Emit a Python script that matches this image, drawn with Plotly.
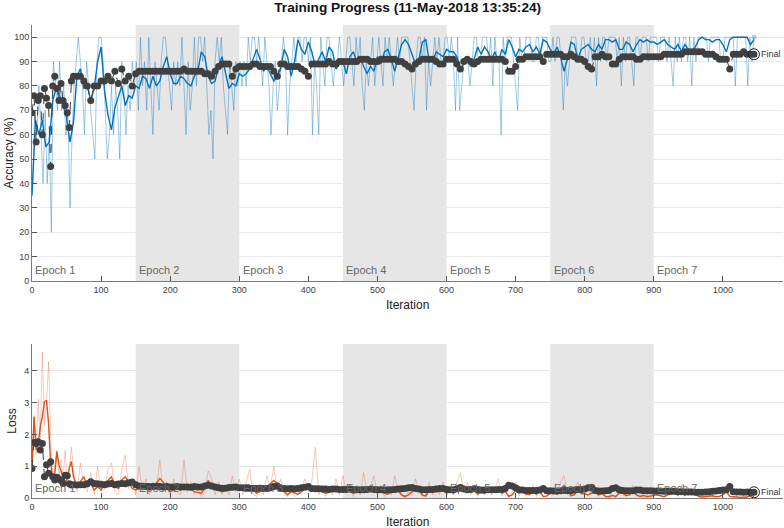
import plotly.graph_objects as go
from plotly.subplots import make_subplots

# iteration grids
acc_raw_iter = list(range(1, 1046, 3))
acc_smooth_iter = list(range(0, 1046, 5))
val_iter = list(range(0, 60, 3)) + list(range(60, 1046, 5))

# training accuracy (per mini-batch, %)
acc_raw = [
    40, 70, 60, 80, 60, 40, 70, 40, 60, 20,
    90, 80, 70, 90, 70, 80, 60, 70, 30, 60,
    80, 90, 100, 90, 80, 60, 90, 80, 70, 60,
    50, 90, 100, 100, 90, 70, 50, 60, 80, 60,
    80, 70, 50, 90, 80, 60, 80, 70, 90, 80,
    90, 70, 100, 80, 90, 70, 100, 80, 60, 90,
    80, 70, 90, 100, 100, 90, 80, 70, 90, 80,
    90, 80, 100, 80, 60, 90, 70, 80, 100, 80,
    100, 100, 90, 100, 80, 60, 70, 50, 90, 100,
    90, 100, 80, 70, 60, 90, 80, 70, 90, 80,
    90, 80, 90, 80, 100, 90, 100, 100, 90, 100,
    90, 80, 100, 90, 80, 60, 80, 90, 70, 80,
    90, 100, 90, 60, 80, 90, 100, 90, 100, 100,
    90, 100, 100, 90, 100, 60, 90, 80, 60, 100,
    90, 80, 100, 100, 90, 80, 90, 90, 100, 90,
    80, 90, 100, 100, 90, 80, 100, 90, 100, 80,
    70, 90, 80, 90, 100, 80, 90, 100, 90, 80,
    100, 90, 100, 90, 80, 90, 100, 90, 100, 100,
    100, 100, 90, 80, 70, 90, 100, 100, 90, 100,
    70, 90, 80, 90, 100, 90, 100, 90, 90, 100,
    100, 90, 100, 90, 70, 100, 70, 80, 90, 90,
    90, 80, 90, 100, 100, 90, 90, 100, 100, 100,
    90, 100, 80, 100, 90, 90, 60, 100, 90, 100,
    100, 100, 90, 80, 70, 100, 90, 90, 100, 100,
    100, 90, 90, 100, 100, 90, 100, 100, 100, 90,
    90, 100, 90, 100, 100, 90, 70, 90, 80, 90,
    100, 100, 100, 90, 90, 100, 100, 90, 90, 100,
    90, 100, 80, 100, 90, 100, 100, 90, 100, 100,
    100, 100, 90, 100, 80, 100, 90, 100, 100, 90,
    80, 100, 100, 90, 100, 100, 100, 90, 100, 100,
    100, 100, 90, 100, 100, 100, 90, 100, 90, 80,
    100, 90, 100, 90, 100, 100, 90, 100, 80, 100,
    90, 100, 100, 100, 100, 100, 90, 100, 100, 100,
    100, 100, 90, 90, 100, 100, 100, 100, 100, 80,
    100, 100, 100, 100, 100, 80, 100, 90, 100,
]

# smoothed training accuracy (%)
acc_smooth = [
    35, 66, 60, 66, 55, 57, 74, 79, 76, 72, 67, 57, 65, 84, 87, 79, 80, 74, 79, 90,
    96, 78, 68, 62, 71, 76, 80, 72, 76, 75, 80, 79, 84, 83, 79, 84, 80, 82, 88, 92,
    85, 81, 81, 84, 83, 81, 80, 84, 86, 94, 92, 84, 81, 82, 88, 92, 85, 79, 81, 80,
    85, 84, 85, 87, 91, 95, 91, 86, 88, 85, 82, 84, 87, 95, 92, 84, 90, 99, 95, 93,
    98, 94, 88, 91, 94, 90, 96, 94, 87, 89, 90, 85, 92, 94, 90, 92, 88, 85, 88, 86,
    92, 89, 94, 95, 91, 86, 91, 97, 99, 97, 93, 89, 91, 98, 99, 90, 90, 94, 93, 92,
    95, 94, 94, 92, 87, 89, 91, 88, 91, 96, 93, 96, 94, 91, 94, 90, 95, 93, 99, 96,
    92, 95, 94, 96, 97, 94, 96, 93, 99, 98, 95, 93, 96, 92, 86, 91, 98, 97, 91, 95,
    96, 97, 95, 94, 97, 95, 99, 99, 98, 99, 95, 95, 98, 97, 94, 97, 99, 98, 99, 98,
    98, 97, 98, 99, 97, 96, 95, 97, 94, 97, 95, 94, 96, 99, 100, 99, 99, 98, 99, 99,
    97, 94, 99, 100, 100, 100, 100, 100, 97, 99,
]

# validation accuracy (%)
acc_val = [
    69, 76, 57, 74, 76, 60, 79, 75, 72, 47, 80, 84, 79, 74, 81, 74, 72, 69, 63, 82,
    84, 84, 84, 82, 80, 74, 80, 80, 82, 82, 84, 82, 86, 81, 87, 82, 84, 80, 85, 86,
    86, 86, 86, 86, 86, 86, 86, 86, 86, 86, 86, 86, 87, 86, 86, 86, 86, 86, 85, 85,
    84, 86, 88, 89, 89, 89, 84, 87, 88, 88, 88, 88, 89, 89, 88, 88, 88, 88, 86, 84,
    89, 89, 88, 88, 88, 88, 87, 86, 84, 89, 89, 89, 89, 89, 90, 89, 89, 90, 90, 90,
    90, 90, 90, 91, 91, 91, 90, 90, 90, 91, 91, 91, 91, 91, 90, 90, 89, 88, 87, 89,
    90, 91, 91, 91, 91, 90, 89, 89, 91, 91, 91, 89, 87, 90, 91, 90, 89, 90, 91, 91,
    91, 91, 91, 91, 91, 90, 86, 86, 88, 91, 91, 92, 92, 92, 92, 92, 90, 93, 93, 93,
    93, 93, 92, 92, 93, 92, 91, 91, 90, 88, 87, 92, 92, 93, 92, 92, 89, 89, 91, 92,
    92, 92, 92, 91, 91, 92, 92, 92, 92, 92, 92, 93, 93, 93, 93, 93, 93, 94, 94, 94,
    94, 94, 94, 93, 93, 93, 92, 91, 91, 91, 87, 93, 93, 93, 94, 93, 93, 93,
]

# training loss (per mini-batch)
loss_raw = [
    0.9, 2.6, 1.4, 3.1, 1.9, 4.6, 2.3, 3.0, 4.3, 2.0, 0.6, 1.0, 1.5, 0.7, 1.2, 0.6, 1.5, 0.4, 0.9, 1.6,
    0.9, 0.2, 1.1, 0.4, 0.2, 0.8, 0.1, 1.0, 0.2, 0.3, 0.9, 1.1, 0.2, 0.1, 0.9, 1.35, 0.3, 0.6, 0.1, 1.0,
    0.2, 0.6, 0.1, 0.5, 0.3, 1.2, 0.2, 0.5, 0.1, 0.6, 0.2, 0.1, 1.2, 0.2, 0.5, 0.1, 0.3, 0.05, 0.2, 0.85,
    0.6, 0.1, 0.5, 0.1, 0.4, 0.1, 0.7, 0.2, 0.6, 0.1, 0.5, 0.9, 0.1, 0.05, 0.4, 0.1, 0.7, 0.3, 1.0, 0.2,
    0.6, 0.1, 0.05, 0.4, 0.05, 0.1, 0.3, 0.6, 0.2, 0.5, 1.6, 0.1, 0.4, 0.05, 0.3, 0.1, 0.6, 0.1, 0.7, 0.2,
    0.3, 0.05, 0.4, 0.1, 0.8, 0.2, 0.4, 0.7, 0.1, 0.4, 0.05, 0.2, 0.1, 0.7, 0.2, 0.05, 0.02, 0.2, 0.1, 0.6,
    0.2, 0.05, 0.1, 0.5, 0.1, 0.4, 0.1, 0.5, 0.05, 0.3, 0.1, 0.5, 0.8, 0.2, 0.5, 0.1, 0.4, 0.05, 0.3, 0.1,
    0.4, 0.1, 0.3, 0.6, 0.05, 0.4, 0.02, 0.2, 0.5, 0.05, 0.3, 0.05, 0.2, 0.4, 0.05, 0.3, 0.02, 0.1, 0.3, 0.1,
    0.2, 0.5, 0.7, 0.1, 0.03, 0.2, 0.5, 0.1, 0.2, 0.05, 0.3, 0.4, 0.05, 0.3, 0.02, 0.05, 0.1, 0.02, 0.3, 0.1,
    0.05, 0.2, 0.4, 0.05, 0.1, 0.02, 0.1, 0.03, 0.1, 0.2, 0.05, 0.03, 0.2, 0.1, 0.3, 0.05, 0.4, 0.05, 0.3, 0.3,
    0.1, 0.02, 0.05, 0.02, 0.1, 0.03, 0.05, 0.1, 0.2, 0.4, 0.05, 0.03, 0.05, 0.02, 0.05, 0.02, 0.15, 0.05,
]

# smoothed training loss
loss_smooth = [
    0.98, 2.56, 1.51, 1.72, 2.24, 2.56, 3.03, 3.08, 2.35, 1.1, 0.6, 0.75, 1.46, 1.05, 0.85, 0.67, 0.5, 0.6, 0.95, 1.15,
    0.67, 0.36, 0.5, 0.67, 0.36, 0.46, 0.25, 0.36, 0.25, 0.46, 0.55, 0.67, 0.36, 0.3, 0.57, 0.67, 0.5, 0.3, 0.25, 0.3,
    0.36, 0.35, 0.25, 0.36, 0.45, 0.62, 0.5, 0.3, 0.2, 0.25, 0.3, 0.25, 0.36, 0.3, 0.28, 0.2, 0.18, 0.15, 0.3, 0.55,
    0.4, 0.3, 0.25, 0.2, 0.25, 0.3, 0.4, 0.35, 0.28, 0.3, 0.25, 0.35, 0.25, 0.15, 0.2, 0.3, 0.35, 0.45, 0.55, 0.45,
    0.3, 0.2, 0.1, 0.2, 0.15, 0.12, 0.2, 0.3, 0.35, 0.3, 0.25, 0.3, 0.2, 0.15, 0.18, 0.25, 0.3, 0.25, 0.35, 0.3,
    0.2, 0.15, 0.2, 0.25, 0.35, 0.3, 0.25, 0.35, 0.2, 0.25, 0.15, 0.12, 0.2, 0.35, 0.25, 0.1, 0.05, 0.1, 0.2, 0.3,
    0.25, 0.1, 0.06, 0.25, 0.3, 0.2, 0.2, 0.25, 0.15, 0.2, 0.15, 0.25, 0.4, 0.3, 0.25, 0.3, 0.25, 0.12, 0.18, 0.15,
    0.2, 0.25, 0.2, 0.3, 0.15, 0.2, 0.05, 0.1, 0.25, 0.15, 0.2, 0.12, 0.1, 0.2, 0.12, 0.2, 0.05, 0.06, 0.15, 0.2,
    0.12, 0.25, 0.4, 0.25, 0.08, 0.1, 0.25, 0.15, 0.12, 0.1, 0.15, 0.2, 0.1, 0.15, 0.05, 0.04, 0.08, 0.05, 0.15, 0.15,
    0.08, 0.1, 0.2, 0.1, 0.05, 0.08, 0.04, 0.06, 0.06, 0.1, 0.07, 0.04, 0.1, 0.12, 0.15, 0.1, 0.2, 0.1, 0.15, 0.2,
    0.12, 0.05, 0.03, 0.04, 0.05, 0.07, 0.04, 0.05, 0.1, 0.2, 0.05, 0.03, 0.03, 0.02, 0.03, 0.03, 0.08, 0.05,
]

# validation loss
loss_val = [
    0.93, 1.75, 1.72, 1.77, 1.51, 1.72, 0.67, 1.05, 0.78, 1.14, 0.67, 0.57, 0.65, 0.6, 0.55, 0.46, 0.72, 0.7, 0.45, 0.41,
    0.42, 0.41, 0.42, 0.42, 0.45, 0.51, 0.46, 0.45, 0.43, 0.42, 0.44, 0.46, 0.42, 0.44, 0.46, 0.45, 0.48, 0.5, 0.42, 0.38,
    0.37, 0.36, 0.36, 0.36, 0.37, 0.36, 0.35, 0.36, 0.35, 0.35, 0.36, 0.35, 0.35, 0.35, 0.34, 0.36, 0.35, 0.35, 0.38, 0.4,
    0.38, 0.35, 0.32, 0.31, 0.31, 0.33, 0.34, 0.35, 0.32, 0.32, 0.31, 0.31, 0.3, 0.3, 0.31, 0.3, 0.3, 0.32, 0.36, 0.38,
    0.3, 0.3, 0.29, 0.3, 0.29, 0.3, 0.32, 0.34, 0.36, 0.3, 0.29, 0.29, 0.28, 0.28, 0.27, 0.28, 0.28, 0.27, 0.27, 0.27,
    0.28, 0.27, 0.26, 0.26, 0.26, 0.27, 0.28, 0.27, 0.26, 0.26, 0.25, 0.26, 0.26, 0.27, 0.28, 0.29, 0.3, 0.32, 0.33, 0.3,
    0.28, 0.26, 0.26, 0.27, 0.27, 0.28, 0.3, 0.3, 0.27, 0.26, 0.26, 0.29, 0.33, 0.28, 0.26, 0.27, 0.29, 0.27, 0.25, 0.25,
    0.26, 0.26, 0.26, 0.27, 0.27, 0.3, 0.4, 0.38, 0.32, 0.26, 0.25, 0.24, 0.24, 0.24, 0.24, 0.25, 0.3, 0.23, 0.23, 0.22,
    0.22, 0.23, 0.24, 0.24, 0.23, 0.25, 0.27, 0.27, 0.28, 0.32, 0.34, 0.24, 0.22, 0.22, 0.23, 0.24, 0.3, 0.32, 0.26, 0.24,
    0.23, 0.23, 0.23, 0.25, 0.25, 0.23, 0.23, 0.23, 0.22, 0.22, 0.22, 0.21, 0.21, 0.21, 0.21, 0.2, 0.2, 0.19, 0.19, 0.19,
    0.18, 0.18, 0.18, 0.19, 0.2, 0.21, 0.22, 0.24, 0.25, 0.26, 0.36, 0.2, 0.19, 0.19, 0.18, 0.19, 0.18, 0.18,
]

epoch_starts = [0, 150, 300, 450, 600, 750, 900]
epoch_labels = ["Epoch 1", "Epoch 2", "Epoch 3", "Epoch 4", "Epoch 5", "Epoch 6", "Epoch 7"]
epoch_len = 150

FONT = "Liberation Sans, Arial, sans-serif"
BLUE = "#0072BD"
ORANGE = "#D95319"
DARK = "#404040"

fig = make_subplots(rows=2, cols=1)

# accuracy panel
fig.add_trace(go.Scatter(x=acc_raw_iter, y=acc_raw, mode="lines",
                         line=dict(color="rgba(0,114,189,0.38)", width=1)), row=1, col=1)
fig.add_trace(go.Scatter(x=acc_smooth_iter, y=acc_smooth, mode="lines",
                         line=dict(color=BLUE, width=1.4)), row=1, col=1)
fig.add_trace(go.Scatter(x=val_iter, y=acc_val, mode="lines+markers",
                         line=dict(color=DARK, width=1, dash="dash"),
                         marker=dict(color=DARK, size=7)), row=1, col=1)
fig.add_trace(go.Scatter(x=[acc_raw_iter[-1]], y=[acc_raw[-1]], mode="markers",
                         marker=dict(color="rgba(0,114,189,0.35)", size=5)), row=1, col=1)
fig.add_trace(go.Scatter(x=[val_iter[-1]], y=[acc_val[-1]], mode="markers",
                         marker=dict(color="rgba(0,0,0,0)", size=11,
                                     line=dict(color="#222222", width=1))), row=1, col=1)

# loss panel
fig.add_trace(go.Scatter(x=val_iter, y=loss_raw, mode="lines",
                         line=dict(color="rgba(217,83,25,0.3)", width=1)), row=2, col=1)
fig.add_trace(go.Scatter(x=val_iter, y=loss_smooth, mode="lines",
                         line=dict(color=ORANGE, width=1.4)), row=2, col=1)
fig.add_trace(go.Scatter(x=val_iter, y=loss_val, mode="lines+markers",
                         line=dict(color=DARK, width=1, dash="dash"),
                         marker=dict(color=DARK, size=7)), row=2, col=1)
fig.add_trace(go.Scatter(x=[val_iter[-1]], y=[loss_val[-1]], mode="markers",
                         marker=dict(color="rgba(0,0,0,0)", size=11,
                                     line=dict(color="#222222", width=1))), row=2, col=1)

# epoch shading + labels
for k, (start, lab) in enumerate(zip(epoch_starts, epoch_labels)):
    if k % 2 == 1:
        for xr, yr in [("x", "y domain"), ("x2", "y2 domain")]:
            fig.add_shape(type="rect", xref=xr, yref=yr,
                          x0=start, x1=start + epoch_len, y0=0, y1=1,
                          fillcolor="#e6e6e6", line_width=0, layer="below")
    fig.add_annotation(x=start + 2, y=4.6, xref="x", yref="y", text=lab, showarrow=False,
                       xanchor="left", yanchor="middle", font=dict(size=11, color="#666666", family=FONT))
    fig.add_annotation(x=start + 2, y=0.3, xref="x2", yref="y2", text=lab, showarrow=False,
                       xanchor="left", yanchor="middle", font=dict(size=11, color="#666666", family=FONT))

fig.add_annotation(x=val_iter[-1] + 7, y=acc_val[-1], xref="x", yref="y", text="Final",
                   showarrow=False, xanchor="left", font=dict(size=9, color="#333333", family=FONT))
fig.add_annotation(x=val_iter[-1] + 7, y=loss_val[-1], xref="x2", yref="y2", text="Final",
                   showarrow=False, xanchor="left", font=dict(size=9, color="#333333", family=FONT))

axis_common = dict(showline=True, linecolor="#7a7a7a", linewidth=1, ticks="inside", ticklen=5,
                   tickcolor="#555555", tickfont=dict(size=9, color="#404040", family=FONT),
                   zeroline=False, mirror=False, automargin=False)
for r in [1, 2]:
    fig.update_xaxes(range=[0, 1087], tickvals=list(range(0, 1001, 100)), showgrid=False,
                     domain=[0, 1], row=r, col=1, **axis_common)
fig.update_yaxes(range=[0, 105], tickvals=list(range(0, 101, 10)), showgrid=True,
                 gridcolor="#e8e8e8", domain=[0.4588, 1], row=1, col=1, **axis_common)
fig.update_yaxes(range=[0, 4.85], tickvals=[0, 1, 2, 3, 4], showgrid=True,
                 gridcolor="#e8e8e8", domain=[0, 0.3256], row=2, col=1, **axis_common)

# axis titles
fig.add_annotation(x=0.5, y=-0.058, xref="x domain", yref="y domain", text="Iteration", showarrow=False,
                   yanchor="top", font=dict(size=12, color="#222222", family=FONT))
fig.add_annotation(x=0.5, y=-0.097, xref="x2 domain", yref="y2 domain", text="Iteration", showarrow=False,
                   yanchor="top", font=dict(size=12, color="#222222", family=FONT))
fig.add_annotation(x=-0.031, y=0.5, xref="x domain", yref="y domain", text="Accuracy (%)", showarrow=False,
                   xanchor="center", yanchor="middle", textangle=-90,
                   font=dict(size=12, color="#222222", family=FONT))
fig.add_annotation(x=-0.027, y=0.5, xref="x2 domain", yref="y2 domain", text="Loss", showarrow=False,
                   xanchor="center", yanchor="middle", textangle=-90,
                   font=dict(size=12, color="#222222", family=FONT))

fig.update_layout(
    width=784, height=528,
    margin=dict(l=32, r=1, t=25, b=30),
    plot_bgcolor="white", paper_bgcolor="white",
    showlegend=False,
    title=dict(text="<b>Training Progress (11-May-2018 13:35:24)</b>", x=0.52, xanchor="center",
               y=0.995, yanchor="top", font=dict(size=13.6, color="#111111", family=FONT),
               automargin=False),
)

# remove the default page margin so the figure sits at the window corner
fig.write_html("out.html", config={"displayModeBar": False},
               post_script="document.body.style.margin='0';")
